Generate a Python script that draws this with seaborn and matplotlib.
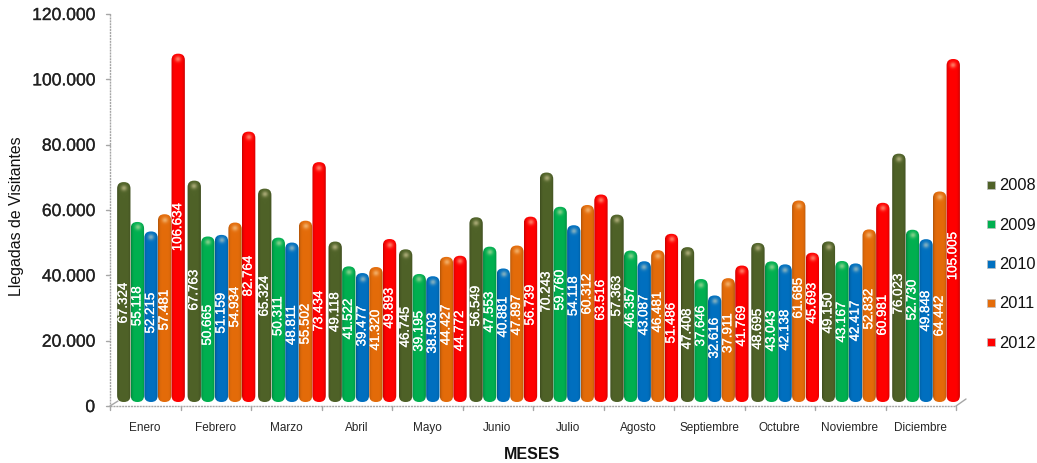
import numpy as np
import pandas as pd
import seaborn as sns
import matplotlib.pyplot as plt
import matplotlib.patheffects as pe
from matplotlib.colors import to_rgb
from matplotlib.lines import Line2D
from matplotlib.patches import FancyBboxPatch, Rectangle

meses = ["Enero", "Febrero", "Marzo", "Abril", "Mayo", "Junio", "Julio",
         "Agosto", "Septiembre", "Octubre", "Noviembre", "Diciembre"]
v2008 = [67324, 67763, 65324, 49118, 46745, 56549, 70243, 57363, 47408, 48695, 49150, 76023]
v2009 = [55118, 50665, 50311, 41522, 39195, 47553, 59760, 46357, 37646, 43043, 43167, 52730]
v2010 = [52215, 51159, 48811, 39477, 38503, 40881, 54118, 43087, 32616, 42138, 42417, 49848]
v2011 = [57481, 54934, 55502, 41320, 44427, 47897, 60312, 46481, 37911, 61685, 52832, 64442]
v2012 = [106634, 82764, 73434, 49893, 44772, 56739, 63516, 51486, 41769, 45693, 60981, 105005]
anios = ["2008", "2009", "2010", "2011", "2012"]
colores = ["#4f6228", "#00b050", "#0070c0", "#e46c0a", "#ff0000"]
yticks = [0, 20000, 40000, 60000, 80000, 100000, 120000]
ytick_labels = ["0", "20.000", "40.000", "60.000", "80.000", "100.000", "120.000"]

# the value labels were placed by hand in the original: pixel row of their centre
fila2008 = [304, 291, 297, 313, 328, 307, 293, 297, 330, 330, 314, 295]
fila2009 = [307, 326, 317, 320, 332, 313, 291, 308, 327, 332, 323, 301]
fila2010 = [314, 314, 326, 327, 334, 318, 297, 316, 339, 331, 322, 312]
fila2011 = [311, 308, 325, 331, 326, 316, 295, 313, 334, 299, 310, 317]
fila2012 = [228, 277, 312, 309, 332, 306, 301, 324, 327, 304, 316, 257]

df = pd.DataFrame({"mes": meses, "2008": v2008, "2009": v2009, "2010": v2010,
                   "2011": v2011, "2012": v2012})
df = df.melt(id_vars="mes", var_name="anio", value_name="llegadas")
filas = fila2008 + fila2009 + fila2010 + fila2011 + fila2012

sns.set_theme(style="white")
plt.rcParams['font.family'] = ['Liberation Sans', 'DejaVu Sans']

W, H = 1037, 464
BASE = 403
x_unit = 70.46              # px per month
y_unit = 65.33 / 20000      # px per visitor

fig = plt.figure(figsize=(W / 100, H / 100), dpi=100)
ax = fig.add_axes([115.77 / W, 1 - BASE / H, 12 * x_unit / W, 120000 * y_unit / H])

sns.barplot(data=df, x="mes", y="llegadas", hue="anio", order=meses, hue_order=anios,
            palette=colores, width=0.965, gap=0, saturation=1, legend=False, ax=ax)
aspect = x_unit / y_unit


def sombra(color, alto):
    # dark edges, flat middle and a soft shine near the top
    rgb = np.array(to_rgb(color))
    alto = max(int(alto), 8)
    cols = np.linspace(-1, 1, 26)
    rows = np.arange(alto) + 0.5
    xx, yy = np.meshgrid(cols, rows)
    k = 1 - 0.22 * np.abs(xx) ** 5
    img = rgb[None, None, :] * k[:, :, None]
    glow = 0.5 * np.exp(-((xx * 6.5 / 2.8) ** 2 + ((yy - 6) / 2.8) ** 2))
    destino = np.array([1.0, 0.93, 0.75])
    return img * (1 - glow[:, :, None]) + destino * glow[:, :, None]


bars = [p for p in ax.patches if p.get_height() > 0]
for bar in bars:
    color = bar.get_facecolor()[:3]
    x0, w, h = bar.get_x(), bar.get_width(), bar.get_height()
    bar.set_visible(False)
    box = FancyBboxPatch((x0 + w * 0.01, 0), w * 0.98, h,
                         boxstyle=f"round,pad=0,rounding_size={w * 0.47}",
                         mutation_aspect=aspect, fc="none", ec="none", zorder=3)
    ax.add_patch(box)
    im = ax.imshow(sombra(color, h * y_unit), extent=(x0, x0 + w, 0, h), aspect="auto",
                   zorder=2, interpolation="bilinear", origin="upper")
    im.set_clip_path(box)

ax.set_xlim(-0.5, 11.5)
ax.set_ylim(0, 120000)

for bar, value, fila in zip(bars, df["llegadas"], filas):
    cx = bar.get_x() + bar.get_width() / 2
    ax.text(cx, (BASE - fila) / y_unit, f"{value:,}".replace(",", "."), rotation=90,
            ha="center", va="center", color="white", fontsize=9.6, zorder=5, clip_on=False,
            path_effects=[pe.withStroke(linewidth=0.18, foreground="white")])

ax.set_xticks([])
ax.set_yticks([])
ax.set_xlabel("")
ax.set_ylabel("")
ax.patch.set_alpha(0)
for s in ax.spines.values():
    s.set_visible(False)


def px_line(xs, ys, **kw):
    fig.add_artist(Line2D([x / W for x in xs], [1 - y / H for y in ys],
                          color="#a6a6a6", lw=1, **kw))


# wall and floor edges of the fake 3D chart
px_line([110, 110], [15, 407], ls=(0, (1.5, 0.6)))
px_line([110, 956], [407, 407], ls=(0, (1.5, 0.6)))
px_line([110, 118], [407, 402])
px_line([956, 966], [407, 400])
for k in range(13):
    xt = 110 + k * 70.5
    px_line([xt, xt], [407, 411])
peso = [pe.withStroke(linewidth=0.2, foreground="#222222")]
for lab, v in zip(ytick_labels, yticks):
    yp = 407 - v * y_unit
    px_line([106, 110], [yp, yp])
    fig.text(95 / W, 1 - (yp + 1.5) / H, lab, ha="right", va="center", fontsize=12.6,
             color="#222222", path_effects=peso)
for k, mes in enumerate(meses):
    fig.text((145 + k * 70.5) / W, 1 - 428 / H, mes, ha="center", va="center",
             fontsize=8.5, color="#262626")

fig.text(17 / W, 1 - 216 / H, "Llegadas de Visitantes", rotation=90, ha="center",
         va="center", fontsize=11.4, color="#111111")
fig.text(532 / W, 1 - 455 / H, "MESES", ha="center", va="center", fontsize=11.5,
         fontweight="bold", color="#111111")

# legend
for k, (anio, c) in enumerate(zip(anios, colores)):
    yp = 186 + k * 39.3
    fig.add_artist(Rectangle((987 / W, 1 - (yp + 4) / H), 8 / W, 8 / H, fc=c,
                             ec="#bfbfbf", lw=0.5, transform=fig.transFigure))
    fig.text(999 / W, 1 - yp / H, anio, ha="left", va="center", fontsize=11.8,
             color="#111111")

fig.savefig("out.png", dpi=100)
